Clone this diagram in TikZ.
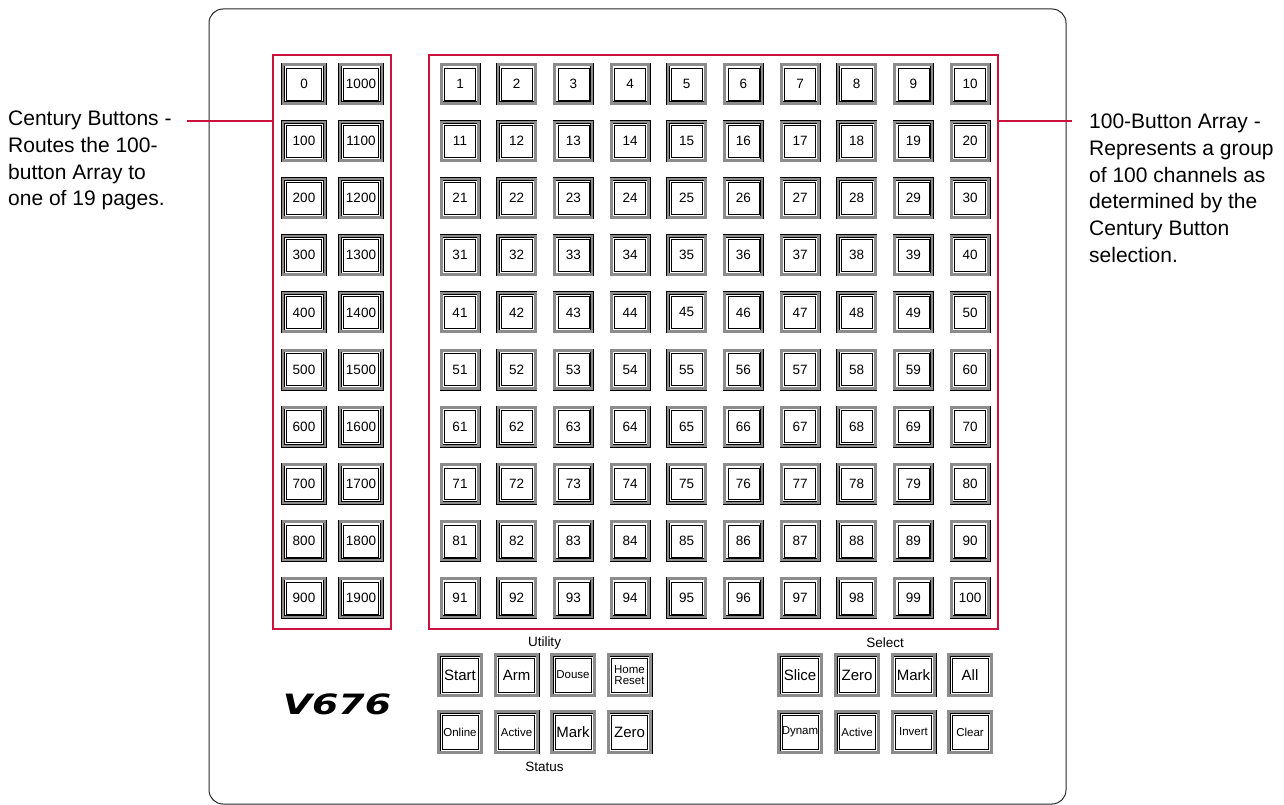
\documentclass[tikz,border=0pt]{standalone}
\usepackage{fontspec}
\setmainfont{Liberation Sans}
\newfontfamily\logofont{DejaVu Sans}
\definecolor{crim}{RGB}{204,18,60}
\definecolor{ring}{RGB}{140,140,140}
\begin{document}
\begin{tikzpicture}[x=1pt,y=-1pt,
  keybase/.style={draw=black, line width=0.45pt, double=ring, double distance=2.6pt,
    fill=white, inner sep=0pt,
    path picture={\draw[line width=0.5pt] ([shift={(3.3pt,-3.3pt)}]path picture bounding box.north west)
      rectangle ([shift={(-3.3pt,3.3pt)}]path picture bounding box.south east);}},
  akey/.style={keybase, minimum width=37.5pt, minimum height=38.5pt, font=\fontsize{13.5}{14}\selectfont},
  ckey/.style={keybase, minimum width=42pt, minimum height=38.5pt, font=\fontsize{13.5}{14}\selectfont},
  bkey/.style={keybase, minimum width=42.5pt, minimum height=40.5pt, font=\fontsize{15}{16}\selectfont},
  skey/.style={bkey, font=\fontsize{11.5}{12.5}\selectfont, align=center},
  redbox/.style={draw=crim, line width=2pt, inner sep=0pt},
  redline/.style={draw=crim, line width=1.6pt},
  note/.style={font=\fontsize{21}{26.7}\selectfont, align=left, inner sep=0pt, anchor=north west},
  grouplabel/.style={font=\fontsize{13.5}{14}\selectfont, inner sep=0pt}
]
\useasboundingbox (0,0) rectangle (1284,805);
% panel
\draw[line width=1pt, draw=black!85, rounded corners=14pt] (209,9) rectangle (1066,804);
% group boxes
\node[redbox, minimum width=118pt, minimum height=574pt] (centbox) at (332,342) {};
\node[redbox, minimum width=569pt, minimum height=574pt] (arrbox) at (713.5,342) {};
% century buttons
\foreach \r in {0,...,9}{
  \pgfmathtruncatemacro{\lo}{\r*100}
  \pgfmathtruncatemacro{\hi}{1000+\r*100}
  \node[ckey] (ca\r) at (304,84+57.1*\r) {\lo};
  \node[ckey] (cb\r) at (361,84+57.1*\r) {\hi};
}
% 100-button array
\foreach \r in {0,...,9}{
  \foreach \c in {0,...,9}{
    \pgfmathtruncatemacro{\n}{10*\r+\c+1}
    \node[akey] (k\n) at (460+56.67*\c,84+57.1*\r) {\n};
  }
}
% utility / status
\node[bkey] (start) at (460,675) {Start};
\node[bkey] (arm) at (516.5,675) {Arm};
\node[skey] (douse) at (573,675) {Douse};
\node[skey] (home) at (629.5,675) {Home\\[-2pt]Reset};
\node[skey] (online) at (460,732) {Online};
\node[skey] (active) at (516.5,732) {Active};
\node[bkey] (mark) at (573,732) {Mark};
\node[bkey] (zero) at (629.5,732) {Zero};
\node[grouplabel] (utility) at (544.5,643) {Utility};
\node[grouplabel] (status) at (544.5,767) {Status};
% select
\node[bkey] (slice) at (800,675) {Slice};
\node[bkey] (szero) at (857,675) {Zero};
\node[bkey] (smark) at (913.5,675) {Mark};
\node[bkey] (all) at (970,675) {All};
\node[skey] (dynam) at (800,732) {Dynam};
\node[skey] (sactive) at (857,732) {Active};
\node[skey] (invert) at (913.5,732) {Invert};
\node[skey] (clear) at (970,732) {Clear};
\node[grouplabel] (select) at (885,643) {Select};
% logo
\node[inner sep=0pt] (logo) at (337,704) {\logofont\bfseries\itshape\fontsize{28}{28}\selectfont\scalebox{1.35}[1]{V676}};
% annotations
\node[note] (cnote) at (8,111) {Century Buttons -\\Routes the 100-\\button Array to\\one of 19 pages.};
\node[note] (anote) at (1089,114) {100-Button Array -\\Represents a group\\of 100 channels as\\determined by the\\Century Button\\selection.};
\coordinate (cl) at (187,121);
\coordinate (al) at (1072,121);
\draw[redline] (cl) -- (cl -| centbox.west);
\draw[redline] (arrbox.east |- al) -- (al);
\end{tikzpicture}
\end{document}
